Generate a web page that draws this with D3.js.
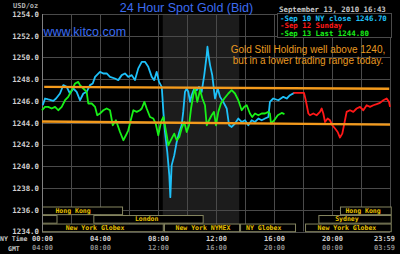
<!DOCTYPE html>
<html>
<head>
<meta charset="utf-8">
<script src="https://cdn.jsdelivr.net/npm/d3@7"></script>
<style>
    body { margin: 0; background: #000; }
    svg { display: block; }
    .mono { font-family: "DejaVu Sans Mono", monospace; font-weight: bold; }
    .sans { font-family: "Liberation Sans", Arial, sans-serif; }
</style>
</head>
<body>
<div id="root"></div>
<script>
// hours since midnight NY time -> bid price
let sep10 = [
    [0.05,1245.61],[0.21,1246.23],[0.43,1246.14],[0.78,1246.01],[0.97,1246.23],[1.24,1246.69],
    [1.47,1247.46],[1.70,1247.30],[1.93,1246.69],[2.16,1247.15],[2.39,1246.84],[2.62,1246.07],
    [2.85,1246.69],[3.08,1246.84],[3.31,1247.46],[3.50,1247.61],[3.66,1248.22],[4.00,1248.68],
    [4.23,1248.53],[4.46,1248.53],[4.69,1248.22],[5.03,1248.07],[5.26,1247.92],[5.50,1248.38],
    [5.72,1248.53],[5.95,1248.22],[6.19,1248.38],[6.41,1247.92],[6.64,1249.00],[6.88,1249.60],
    [7.10,1249.60],[7.33,1249.14],[7.57,1248.22],[7.74,1247.92],[7.91,1248.68],[8.07,1247.76],
    [8.26,1247.30],[8.37,1245.00],[8.48,1243.15],[8.64,1241.31],[8.78,1239.16],[8.85,1237.16],
    [8.94,1240.08],[9.12,1241.00],[9.29,1242.23],[9.47,1243.15],[9.63,1243.77],[9.74,1245.00],
    [9.86,1246.84],[9.98,1247.15],[10.09,1246.84],[10.21,1245.92],[10.32,1246.53],[10.50,1247.15],
    [10.67,1247.00],[10.83,1247.30],[11.01,1246.84],[11.19,1248.38],[11.36,1250.22],[11.41,1250.99],
    [11.48,1250.22],[11.59,1249.30],[11.74,1248.38],[11.93,1246.23],[12.12,1247.15],[12.28,1246.38],
    [12.50,1245.92],[12.74,1245.31],[12.90,1243.77],[13.08,1243.61],[13.31,1243.93],[13.54,1244.39],
    [13.77,1244.07],[14.00,1244.23],[14.23,1243.77],[14.46,1244.23],[14.69,1244.07],[14.92,1244.39],
    [15.15,1244.23],[15.38,1244.39],[15.61,1244.53],[15.72,1245.92],[15.95,1246.23],[16.30,1246.07],
    [16.64,1246.38],[16.88,1246.23],[17.10,1246.53],[17.40,1246.75]
];

let sep12 = [
    [17.33,1246.75],[18.07,1246.75],[18.19,1246.07],[18.37,1244.85],[18.48,1244.69],[18.71,1244.85],
    [18.94,1244.69],[19.17,1245.00],[19.29,1245.31],[19.40,1244.85],[19.52,1244.07],[19.70,1244.39],
    [19.86,1244.23],[20.02,1243.77],[20.21,1243.47],[20.39,1243.15],[20.55,1242.64],[20.71,1243.00],
    [20.85,1243.93],[21.01,1245.00],[21.24,1245.15],[21.47,1245.00],[21.70,1245.31],[21.93,1245.46],
    [22.16,1245.15],[22.39,1245.61],[22.62,1245.46],[22.85,1245.61],[23.08,1245.71],[23.31,1245.83],
    [23.54,1246.07],[23.77,1246.23],[23.93,1245.92],[24.00,1245.46]
];

let sep13 = [
    [0.00,1245.15],[0.21,1245.46],[0.43,1245.46],[0.67,1245.31],[0.90,1245.46],[1.12,1245.15],
    [1.36,1245.46],[1.59,1246.07],[1.81,1246.38],[2.05,1247.00],[2.28,1247.61],[2.50,1247.76],
    [2.62,1247.46],[2.85,1247.15],[3.08,1246.84],[3.19,1245.77],[3.43,1245.77],[3.66,1245.46],
    [3.81,1244.69],[4.00,1244.85],[4.23,1245.15],[4.46,1245.31],[4.69,1245.15],[4.88,1243.77],
    [5.10,1244.23],[5.38,1243.15],[5.61,1242.39],[5.79,1242.85],[5.95,1243.31],[6.12,1244.23],
    [6.30,1245.15],[6.53,1245.00],[6.76,1245.15],[6.88,1245.31],[7.06,1245.92],[7.22,1245.31],
    [7.45,1244.53],[7.68,1244.39],[7.84,1243.93],[8.02,1242.85],[8.21,1244.07],[8.37,1244.53],
    [8.60,1242.85],[8.71,1241.93],[8.94,1242.54],[9.12,1243.00],[9.29,1242.39],[9.47,1242.69],
    [9.63,1243.47],[9.81,1244.07],[9.98,1243.15],[10.14,1243.77],[10.28,1245.31],[10.43,1246.53],
    [10.55,1247.15],[10.71,1245.92],[10.90,1247.00],[11.06,1246.23],[11.24,1245.61],[11.36,1243.77],
    [11.52,1244.23],[11.70,1244.69],[11.86,1245.00],[12.00,1243.77],[12.16,1245.00],[12.34,1245.77],
    [12.57,1246.23],[12.85,1246.69],[13.08,1247.00],[13.31,1246.69],[13.54,1246.07],[13.77,1245.15],
    [13.95,1245.46],[14.12,1245.61],[14.34,1244.85],[14.50,1244.53],[14.69,1244.85],[14.92,1244.69],
    [15.15,1244.85],[15.38,1244.85],[15.61,1245.00],[15.72,1244.85],[15.79,1243.93],[16.02,1244.23],
    [16.26,1244.69],[16.53,1244.90],[16.72,1244.80]
];

// hand drawn range lines
let rangeLines = [
    [[0.15,1247.30],[23.95,1247.12]],
    [[0.00,1244.11],[24.00,1243.83]]
];

let priceTicks = [1234,1236,1238,1240,1242,1244,1246,1248,1250,1252,1254];
let hourTicks = [0,4,8,12,16,20,24];
let nyLabels = ['00:00','04:00','08:00','12:00','16:00','20:00','23:59'];
let gmtLabels = ['04:00','08:00','12:00','16:00','20:00','00:00','03:59'];
let nyMarketHours = [8.33,13.6];

let sessions = [
    {name:'Hong Kong', row:0, start:0, end:5.52, mid:2.14},
    {name:'', row:1, start:0, end:1.0, mid:0.5},
    {name:'London', row:1, start:3.54, end:11.08, mid:7.22},
    {name:'New York Globex', row:2, start:0, end:8.33, mid:3.66},
    {name:'New York NYMEX', row:2, start:8.41, end:13.59, mid:11.1},
    {name:'NY Globex', row:2, start:13.66, end:17.45, mid:15.29},
    {name:'New York Globex', row:2, start:18.14, end:24.05, mid:21.03},
    {name:'Sydney', row:1, start:19.06, end:24.05, mid:21.03},
    {name:'Hong Kong', row:0, start:20.55, end:24.05, mid:22.14}
];

let legendItems = [
    {text:'-Sep 10 NY close 1246.70', color:'#1ec0f8'},
    {text:'-Sep 12 Sunday', color:'#ff1818'},
    {text:'-Sep 13 Last 1244.80', color:'#18f018'}
];

let note = ['Gold Still Holding well above 1240,', 'but in a lower trading range today.'];

function render() {
    let svg = d3.select('#root').append('svg')
        .attr('width', 400)
        .attr('height', 254);

    svg.append('rect').attr('width', 400).attr('height', 254).attr('fill', '#000');

    let x = d3.scaleLinear().domain([0, 24]).range([42, 390]);
    let y = d3.scaleLinear().domain([1234, 1254]).range([231.5, 14]);
    let row = d3.scaleBand().domain([0, 1, 2]).range([206.5, 231.2]).paddingInner(0.1);

    // NY trading hours shading
    svg.append('rect')
        .attr('x', x(nyMarketHours[0]))
        .attr('y', y(1254))
        .attr('width', x(nyMarketHours[1]) - x(nyMarketHours[0]))
        .attr('height', y(1234) - y(1254))
        .attr('fill', '#1c1c1c');

    // grid
    let grid = svg.append('g').attr('stroke', '#4a4a4a').attr('stroke-width', 1);
    grid.selectAll('line.h')
        .data(priceTicks)
        .join('line')
        .attr('class', 'h')
        .attr('x1', x(0)).attr('x2', x(24))
        .attr('y1', d => Math.round(y(d)) + 0.5)
        .attr('y2', d => Math.round(y(d)) + 0.5);
    grid.selectAll('line.v')
        .data(d3.range(0, 25, 2))
        .join('line')
        .attr('class', 'v')
        .attr('y1', y(1254)).attr('y2', y(1234))
        .attr('x1', d => Math.round(x(d)) + 0.5)
        .attr('x2', d => Math.round(x(d)) + 0.5);

    // price axis
    let yAxis = svg.append('g')
        .attr('transform', `translate(${x(0)},0)`)
        .call(d3.axisLeft(y).tickValues(priceTicks).tickFormat(d3.format('.1f')).tickSize(0).tickPadding(3));
    yAxis.select('.domain').remove();
    yAxis.selectAll('text')
        .attr('class', 'mono')
        .attr('font-size', 7.4)
        .attr('fill', '#d0d0d0');

    // time axes
    let nyAxis = svg.append('g')
        .attr('transform', 'translate(0,236)')
        .call(d3.axisBottom(x).tickValues(hourTicks).tickFormat((d, i) => nyLabels[i]).tickSize(0).tickPadding(0));
    let gmtAxis = svg.append('g')
        .attr('transform', 'translate(0,245)')
        .call(d3.axisBottom(x).tickValues(hourTicks).tickFormat((d, i) => gmtLabels[i]).tickSize(0).tickPadding(0));
    [nyAxis, gmtAxis].forEach((axis, k) => {
        axis.select('.domain').remove();
        axis.selectAll('text')
            .attr('class', 'mono')
            .attr('font-size', 7)
            .attr('fill', k ? '#8a8a8a' : '#d0d0d0')
            .attr('dx', (d, i) => i === hourTicks.length - 1 ? -6 : 0);
    });
    svg.append('text').attr('class', 'mono').attr('x', 0).attr('y', 241)
        .attr('font-size', 6.5).attr('fill', '#c8c8c8').text('NY Time');
    svg.append('text').attr('class', 'mono').attr('x', 8).attr('y', 250.5)
        .attr('font-size', 6.5).attr('fill', '#c8c8c8').text('GMT');

    // trading session boxes
    let sess = svg.append('g').selectAll('g')
        .data(sessions)
        .join('g');
    sess.append('rect')
        .attr('x', d => x(d.start) + 0.5)
        .attr('y', d => row(d.row) + 0.5)
        .attr('width', d => Math.min(x(d.end), 391) - x(d.start))
        .attr('height', row.bandwidth())
        .attr('fill', '#000')
        .attr('stroke', '#858560')
        .attr('stroke-width', 1);
    sess.append('text')
        .attr('class', 'mono')
        .attr('x', d => x(d.mid))
        .attr('y', d => row(d.row) + row.bandwidth() / 2 + 2.6)
        .attr('text-anchor', 'middle')
        .attr('font-size', 6.5)
        .attr('fill', '#e8c000')
        .text(d => d.name);

    // plot frame left edge
    svg.append('line')
        .attr('x1', x(0) + 0.5).attr('x2', x(0) + 0.5)
        .attr('y1', y(1254)).attr('y2', y(1234))
        .attr('stroke', '#808080');

    // price lines
    let line = d3.line().x(d => x(d[0])).y(d => y(d[1]));
    let series = [
        {data: sep10, color: legendItems[0].color},
        {data: sep13, color: legendItems[2].color},
        {data: sep12, color: legendItems[1].color}
    ];
    svg.append('g').selectAll('path')
        .data(series)
        .join('path')
        .attr('d', d => line(d.data))
        .attr('fill', 'none')
        .attr('stroke', d => d.color)
        .attr('stroke-width', 1.8)
        .attr('stroke-linejoin', 'round');

    svg.append('g').selectAll('path')
        .data(rangeLines)
        .join('path')
        .attr('d', line)
        .attr('fill', 'none')
        .attr('stroke', '#f39a1c')
        .attr('stroke-width', 2.4);

    // titles
    svg.append('text').attr('class', 'sans')
        .attr('x', 186.5).attr('y', 11.5)
        .attr('text-anchor', 'middle')
        .attr('font-size', 12.5)
        .attr('fill', '#3c6cf0')
        .text('24 Hour Spot Gold (Bid)');
    svg.append('text').attr('class', 'mono')
        .attr('x', 13).attr('y', 8)
        .attr('font-size', 7).attr('fill', '#b0b0b0')
        .text('USD/oz');
    svg.append('text').attr('class', 'mono')
        .attr('x', 279).attr('y', 11.5)
        .attr('font-size', 7.4).attr('fill', '#c8c8c8')
        .text('September 13, 2010 16:43');
    svg.append('text').attr('class', 'sans')
        .attr('x', 43.5).attr('y', 35.5)
        .attr('font-size', 12.5)
        .attr('fill', '#3c6cf0')
        .text('www.kitco.com');

    // legend
    let legend = svg.append('g');
    legend.append('rect')
        .attr('x', 277.5).attr('y', 13.5)
        .attr('width', 114).attr('height', 24)
        .attr('fill', '#000')
        .attr('stroke', '#4a4a4a');
    legend.selectAll('text')
        .data(legendItems)
        .join('text')
        .attr('class', 'mono')
        .attr('x', 280)
        .attr('y', (d, i) => 20.5 + i * 7.8)
        .attr('font-size', 7.4)
        .attr('fill', d => d.color)
        .text(d => d.text);

    svg.append('g').selectAll('text')
        .data(note)
        .join('text')
        .attr('class', 'sans')
        .attr('x', 308)
        .attr('y', (d, i) => 53 + i * 11)
        .attr('text-anchor', 'middle')
        .attr('font-size', 10)
        .attr('fill', '#e89a20')
        .text(d => d);
}

render();
</script>
</body>
</html>
